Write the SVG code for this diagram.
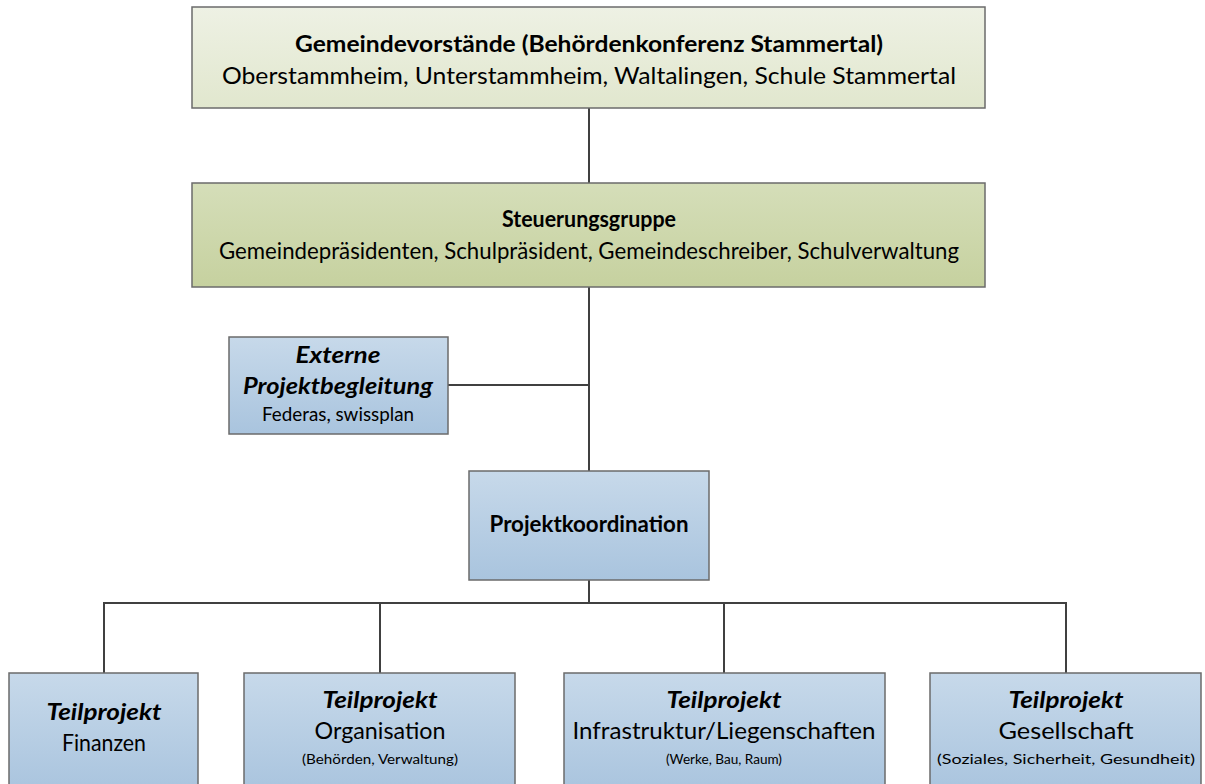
<svg xmlns="http://www.w3.org/2000/svg" width="1205" height="784" viewBox="0 0 1205 784">
<defs>
<linearGradient id="gTop" x1="0" y1="0" x2="0" y2="1"><stop offset="0" stop-color="#eef1e4"/><stop offset="1" stop-color="#e1e7ce"/></linearGradient>
<linearGradient id="gSteer" x1="0" y1="0" x2="0" y2="1"><stop offset="0" stop-color="#d5deb9"/><stop offset="1" stop-color="#c6d19f"/></linearGradient>
<linearGradient id="gBlue" x1="0" y1="0" x2="0" y2="1"><stop offset="0" stop-color="#c7d9ea"/><stop offset="1" stop-color="#a9c4de"/></linearGradient>
<style>
.box{stroke:#6b6b6b;stroke-width:1.5}
.t{font-family:Lato,"Open Sans","Liberation Sans",sans-serif;fill:#000;text-anchor:middle}
.b{font-weight:bold}
.bi{font-weight:bold;font-style:italic}
.l{font-size:22.5px}
.s{font-size:18.5px}
.xs{font-size:14px}
.c{fill:none;stroke:#404040;stroke-width:2}
</style>
</defs>
<g id="connectors">
<path class="c" d="M589 108V471"/>
<path class="c" d="M448 385H589"/>
<path class="c" d="M589 580V603"/>
<path class="c" d="M104 673V603H1066V673"/>
<path class="c" d="M380 603V673"/>
<path class="c" d="M724 603V673"/>
</g>
<g id="n-gemeindevorstaende">
<rect class="box" x="192" y="7" width="793" height="101" fill="url(#gTop)"/>
<text class="t b l" x="589" y="52" textLength="588" lengthAdjust="spacingAndGlyphs">Gemeindevorstände (Behördenkonferenz Stammertal)</text>
<text class="t l" x="589" y="84" textLength="734" lengthAdjust="spacingAndGlyphs">Oberstammheim, Unterstammheim, Waltalingen, Schule Stammertal</text>
</g>
<g id="n-steuerungsgruppe">
<rect class="box" x="192" y="183" width="793" height="104" fill="url(#gSteer)"/>
<text class="t b l" x="589" y="227" textLength="174" lengthAdjust="spacingAndGlyphs">Steuerungsgruppe</text>
<text class="t l" x="589" y="259" textLength="740" lengthAdjust="spacingAndGlyphs">Gemeindepräsidenten, Schulpräsident, Gemeindeschreiber, Schulverwaltung</text>
</g>
<g id="n-externe">
<rect class="box" x="229" y="337" width="219" height="97" fill="url(#gBlue)"/>
<text class="t bi l" x="338" y="363" textLength="85" lengthAdjust="spacingAndGlyphs">Externe</text>
<text class="t bi l" x="338" y="394" textLength="190" lengthAdjust="spacingAndGlyphs">Projektbegleitung</text>
<text class="t s" x="338" y="421" textLength="152" lengthAdjust="spacingAndGlyphs">Federas, swissplan</text>
</g>
<g id="n-projektkoordination">
<rect class="box" x="469" y="471" width="240" height="109" fill="url(#gBlue)"/>
<text class="t b l" x="589" y="532" textLength="199" lengthAdjust="spacingAndGlyphs">Projektkoordination</text>
</g>
<g id="n-finanzen">
<rect class="box" x="9" y="673" width="189" height="120" fill="url(#gBlue)"/>
<text class="t bi l" x="104" y="720" textLength="115" lengthAdjust="spacingAndGlyphs">Teilprojekt</text>
<text class="t l" x="104" y="751" textLength="84" lengthAdjust="spacingAndGlyphs">Finanzen</text>
</g>
<g id="n-organisation">
<rect class="box" x="244" y="673" width="271" height="120" fill="url(#gBlue)"/>
<text class="t bi l" x="380" y="708" textLength="115" lengthAdjust="spacingAndGlyphs">Teilprojekt</text>
<text class="t l" x="380" y="739" textLength="131" lengthAdjust="spacingAndGlyphs">Organisation</text>
<text class="t xs" x="380" y="764" textLength="156" lengthAdjust="spacingAndGlyphs">(Behörden, Verwaltung)</text>
</g>
<g id="n-infrastruktur">
<rect class="box" x="564" y="673" width="321" height="120" fill="url(#gBlue)"/>
<text class="t bi l" x="724" y="708" textLength="115" lengthAdjust="spacingAndGlyphs">Teilprojekt</text>
<text class="t l" x="724" y="739" textLength="303" lengthAdjust="spacingAndGlyphs">Infrastruktur/Liegenschaften</text>
<text class="t xs" x="724" y="764" textLength="116" lengthAdjust="spacingAndGlyphs">(Werke, Bau, Raum)</text>
</g>
<g id="n-gesellschaft">
<rect class="box" x="930" y="673" width="271" height="120" fill="url(#gBlue)"/>
<text class="t bi l" x="1066" y="708" textLength="115" lengthAdjust="spacingAndGlyphs">Teilprojekt</text>
<text class="t l" x="1066" y="739" textLength="135" lengthAdjust="spacingAndGlyphs">Gesellschaft</text>
<text class="t xs" x="1066" y="764" textLength="258" lengthAdjust="spacingAndGlyphs">(Soziales, Sicherheit, Gesundheit)</text>
</g>
</svg>
